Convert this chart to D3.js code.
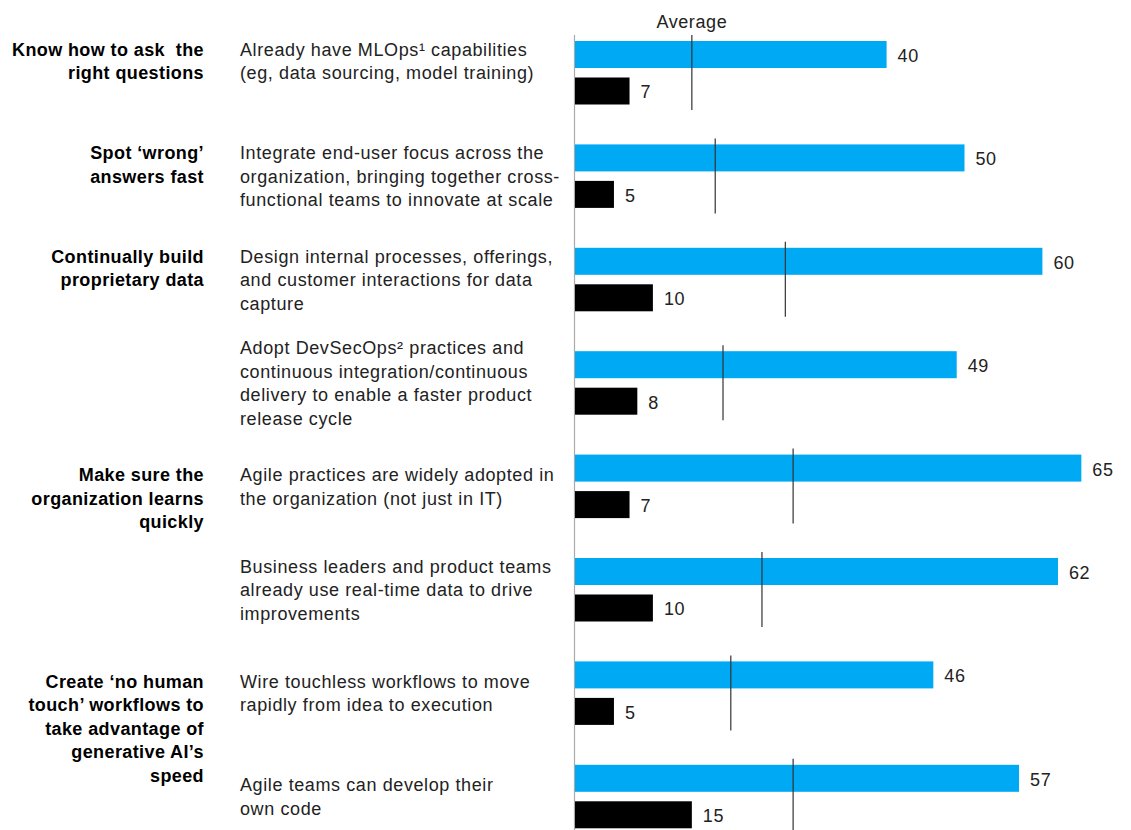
<!DOCTYPE html>
<html>
<head>
<meta charset="utf-8">
<script src="https://cdn.jsdelivr.net/npm/d3@7"></script>
<style>
  body { margin: 0; background: #fff; }
  svg text { font-family: 'Liberation Sans', Arial, sans-serif; }
</style>
</head>
<body>
<svg id="chart" width="1131" height="830"></svg>
<script>
// group headings (bold, left column) and the row each one starts on
const groupLabels = [
  ['Know how to ask  the', 'right questions'],
  ['Spot \u2018wrong\u2019', 'answers fast'],
  ['Continually build', 'proprietary data'],
  ['Make sure the', 'organization learns', 'quickly'],
  ['Create \u2018no human', 'touch\u2019 workflows to', 'take advantage of', 'generative AI\u2019s', 'speed']
];
const groupStartRow = [0, 1, 2, 4, 6];

// practice labels, one per row
const categories = [
  ['Already have MLOps\u00b9 capabilities', '(eg, data sourcing, model training)'],
  ['Integrate end-user focus across the', 'organization, bringing together cross-', 'functional teams to innovate at scale'],
  ['Design internal processes, offerings,', 'and customer interactions for data', 'capture'],
  ['Adopt DevSecOps\u00b2 practices and', 'continuous integration/continuous', 'delivery to enable a faster product', 'release cycle'],
  ['Agile practices are widely adopted in', 'the organization (not just in IT)'],
  ['Business leaders and product teams', 'already use real-time data to drive', 'improvements'],
  ['Wire touchless workflows to move', 'rapidly from idea to execution'],
  ['Agile teams can develop their', 'own code']
];

const topValues = [40, 50, 60, 49, 65, 62, 46, 57];
const restValues = [7, 5, 10, 8, 7, 10, 5, 15];
const averages = [15, 18, 27, 19, 28, 24, 20, 28];

const color = { blue: '#00a9f4', black: '#000', text: '#222', axis: '#aaa', avg: '#333' };

const svg = d3.select('#chart');
const fontSize = 18;
const lineH = 23.5;

const rows = d3.range(categories.length);
const y = d3.scaleBand().domain(rows).range([41, 41 + rows.length * 103.4]).padding(0);
const ySeries = d3.scaleBand().domain(['top', 'rest']).range([0, 63.5]).paddingInner(0.26);
const x = d3.scaleLinear().domain([0, 65]).range([575, 575 + 65 * 7.79]);

// first row's text sits higher than centred
const labelNudge = { 0: -12 };

// baseline axis
svg.append('line')
  .attr('x1', 574.5).attr('x2', 574.5)
  .attr('y1', 35).attr('y2', 830)
  .attr('stroke', color.axis)
  .attr('stroke-width', 1.2);

const firstLineY = i => {
  const center = y(i) + 63.5 / 2;
  return center - (categories[i].length - 1) * lineH / 2 + (labelNudge[i] || 0);
};

// category labels
svg.append('g').attr('class', 'categories')
  .selectAll('text')
  .data(rows)
  .join('text')
  .attr('x', 240)
  .attr('y', i => firstLineY(i) + 6.5)
  .attr('font-size', fontSize)
  .attr('letter-spacing', 0.6)
  .attr('fill', color.text)
  .each(function(i) {
    d3.select(this).selectAll('tspan')
      .data(categories[i])
      .join('tspan')
      .attr('x', 240)
      .attr('dy', (d, k) => (k === 0 ? 0 : lineH))
      .text(d => d);
  });

// group labels
svg.append('g').attr('class', 'groups')
  .selectAll('text')
  .data(groupLabels)
  .join('text')
  .attr('x', 204)
  .attr('y', (d, g) => firstLineY(groupStartRow[g]) + 6.5)
  .attr('text-anchor', 'end')
  .attr('font-size', fontSize)
  .attr('font-weight', 700)
  .attr('letter-spacing', 0.4)
  .attr('fill', '#000')
  .style('white-space', 'pre')
  .each(function(lines) {
    d3.select(this).selectAll('tspan')
      .data(lines)
      .join('tspan')
      .attr('x', 204)
      .attr('dy', (d, k) => (k === 0 ? 0 : lineH))
      .text(d => d);
  });

// bars
const series = [
  { key: 'top', values: topValues, fill: color.blue },
  { key: 'rest', values: restValues, fill: color.black }
];

const rowG = svg.append('g').attr('class', 'bars')
  .selectAll('g.row')
  .data(rows)
  .join('g')
  .attr('class', 'row')
  .attr('transform', i => `translate(0, ${y(i)})`);

series.forEach(s => {
  rowG.append('rect')
    .attr('x', x(0))
    .attr('y', ySeries(s.key))
    .attr('width', i => x(s.values[i]) - x(0))
    .attr('height', ySeries.bandwidth())
    .attr('fill', s.fill);

  rowG.append('text')
    .attr('x', i => x(s.values[i]) + 11)
    .attr('y', ySeries(s.key) + ySeries.bandwidth() / 2 + 7.5)
    .attr('font-size', fontSize)
    .attr('letter-spacing', 0.6)
    .attr('fill', color.text)
    .text(i => s.values[i]);
});

// average markers
rowG.append('line')
  .attr('x1', i => x(averages[i]))
  .attr('x2', i => x(averages[i]))
  .attr('y1', -6)
  .attr('y2', 69)
  .attr('stroke', color.avg)
  .attr('stroke-width', 1.2);

svg.append('text')
  .attr('x', x(averages[0]))
  .attr('y', 27.5)
  .attr('text-anchor', 'middle')
  .attr('font-size', fontSize)
  .attr('letter-spacing', 0.6)
  .attr('fill', color.text)
  .text('Average');
</script>
</body>
</html>
